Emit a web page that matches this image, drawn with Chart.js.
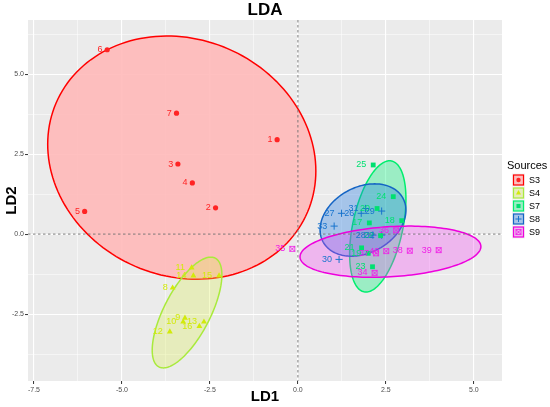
<!DOCTYPE html>
<html>
<head>
<meta charset="utf-8">
<title>LDA</title>
<script src="https://cdn.jsdelivr.net/npm/chart.js@4.4.1/dist/chart.umd.min.js"></script>
<style>
  html, body { margin: 0; padding: 0; background: #ffffff; }
  #ldaChart { display: block; }
</style>
</head>
<body>
<canvas id="ldaChart" width="550" height="407"></canvas>
<script>
/* ── data ─────────────────────────────────────── */
var sources = ['S3', 'S4', 'S7', 'S8', 'S9'];

var s3Ids = [1, 2, 3, 4, 5, 6, 7];
var s3X = [-0.59, -2.34, -3.41, -3.00, -6.06, -5.42, -3.45];
var s3Y = [2.95, 0.82, 2.19, 1.60, 0.71, 5.76, 3.78];

var s4Ids = [8, 9, 10, 11, 12, 13, 14, 15, 16];
var s4X = [-3.56, -3.21, -3.26, -3.02, -3.64, -2.67, -2.97, -2.24, -2.80];
var s4Y = [-1.68, -2.62, -2.74, -1.05, -3.05, -2.74, -1.30, -1.30, -2.88];

var s7Ids = [17, 18, 19, 20, 21, 22, 23, 24, 25];
var s7X = [2.03, 2.95, 2.00, 2.25, 1.81, 2.35, 2.12, 2.71, 2.14];
var s7Y = [0.35, 0.42, -0.60, 0.80, -0.43, -0.05, -1.02, 1.17, 2.16];

var s8Ids = [26, 27, 28, 29, 30, 31, 32, 33];
var s8X = [1.80, 1.24, 2.13, 2.38, 1.17, 1.92, 2.38, 1.03];
var s8Y = [0.65, 0.65, -0.03, 0.72, -0.79, 0.80, -0.03, 0.25];

var s9Ids = [34, 35, 36, 37, 38, 39, 40];
var s9X = [2.18, -0.16, 2.79, 2.22, 3.18, 4.00, 2.51];
var s9Y = [-1.21, -0.46, 0.12, -0.60, -0.52, -0.50, -0.53];

/* 95% ellipses: centre x, centre y, x half-extent, y half-extent, correlation */
var ellipseS3 = [-3.30, 2.39, 3.81, 3.80, -0.11];
var ellipseS4 = [-3.15, -2.45, 0.99, 1.73, 0.68];
var ellipseS7 = [2.27, 0.24, 0.80, 2.05, 0.42];
var ellipseS8 = [1.85, 0.44, 1.22, 1.13, 0.27];
var ellipseS9 = [2.63, -0.55, 2.57, 0.80, 0.20];

var xTicks = [-7.5, -6.25, -5, -3.75, -2.5, -1.25, 0, 1.25, 2.5, 3.75, 5];
var yTicks = [-3.75, -2.5, -1.25, 0, 1.25, 2.5, 3.75, 5, 6.25];

(function () {
  'use strict';

  var FONT = "'Liberation Sans', Arial, Helvetica, sans-serif";
  Chart.defaults.font.family = FONT;
  Chart.defaults.color = '#4d4d4d';

  var colors = {
    S3: { pt: '#ff2424', line: '#ff0000', fill: 'rgba(255,185,185,0.9)' },
    S4: { pt: '#d2ea0a', line: '#a9ea3c', fill: 'rgba(219,237,80,0.3)' },
    S7: { pt: '#00e070', line: '#00ee6e', fill: 'rgba(0,240,120,0.34)' },
    S8: { pt: '#1874cd', line: '#1464c4', fill: 'rgba(30,120,230,0.34)' },
    S9: { pt: '#f01ee6', line: '#ee00dd', fill: 'rgba(245,60,245,0.30)' }
  };

  /* square with a cross inside (ggplot shape 7) */
  function boxCross(color) {
    var c = document.createElement('canvas');
    c.width = 8; c.height = 8;
    var g = c.getContext('2d');
    g.strokeStyle = color;
    g.lineWidth = 0.8;
    g.strokeRect(1.4, 1.4, 5.2, 5.2);
    g.beginPath();
    g.moveTo(1.4, 1.4); g.lineTo(6.6, 6.6);
    g.moveTo(6.6, 1.4); g.lineTo(1.4, 6.6);
    g.stroke();
    return c;
  }

  function pts(xs, ys) {
    return xs.map(function (x, i) { return { x: x, y: ys[i] }; });
  }

  var groups = [
    { name: 'S3', ids: s3Ids, data: pts(s3X, s3Y), ell: ellipseS3, style: 'circle', r: 2.6, bw: 0 },
    { name: 'S4', ids: s4Ids, data: pts(s4X, s4Y), ell: ellipseS4, style: 'triangle', r: 3.4, bw: 0 },
    { name: 'S7', ids: s7Ids, data: pts(s7X, s7Y), ell: ellipseS7, style: 'rect', r: 3.4, bw: 0 },
    { name: 'S8', ids: s8Ids, data: pts(s8X, s8Y), ell: ellipseS8, style: 'cross', r: 3.6, bw: 1 },
    { name: 'S9', ids: s9Ids, data: pts(s9X, s9Y), ell: ellipseS9, style: boxCross(colors.S9.pt), r: 4, bw: 0 }
  ];

  function isMajor(v) {
    return Math.abs(v / 2.5 - Math.round(v / 2.5)) < 1e-6;
  }

  function drawEllipse(chart, e, c) {
    var xs = chart.scales.x, ys = chart.scales.y, ctx = chart.ctx;
    var q = Math.sqrt(1 - e[4] * e[4]);
    ctx.beginPath();
    for (var i = 0; i <= 160; i++) {
      var t = i / 160 * Math.PI * 2;
      var px = xs.getPixelForValue(e[0] + e[2] * Math.cos(t));
      var py = ys.getPixelForValue(e[1] + e[3] * (e[4] * Math.cos(t) + q * Math.sin(t)));
      if (i === 0) ctx.moveTo(px, py); else ctx.lineTo(px, py);
    }
    ctx.closePath();
    ctx.fillStyle = c.fill;
    ctx.fill();
    ctx.lineWidth = 1.5;
    ctx.strokeStyle = c.line;
    ctx.stroke();
  }

  /* ── panel, ellipses, zero lines, labels, legend ── */
  var ggPanel = {
    id: 'ggPanel',
    beforeDraw: function (chart) {
      var a = chart.chartArea, ctx = chart.ctx;
      ctx.save();
      ctx.fillStyle = '#ffffff';
      ctx.fillRect(0, 0, chart.width, chart.height);
      ctx.fillStyle = '#ebebeb';
      ctx.fillRect(a.left, a.top, a.right - a.left, a.bottom - a.top);
      ctx.restore();
    },
    beforeDatasetsDraw: function (chart) {
      var a = chart.chartArea, ctx = chart.ctx;
      ctx.save();
      ctx.beginPath();
      ctx.rect(a.left, a.top, a.right - a.left, a.bottom - a.top);
      ctx.clip();
      groups.forEach(function (g) { drawEllipse(chart, g.ell, colors[g.name]); });

      var x0 = chart.scales.x.getPixelForValue(0);
      var y0 = chart.scales.y.getPixelForValue(0);
      ctx.setLineDash([2.5, 2.5]);
      ctx.lineWidth = 0.9;
      ctx.strokeStyle = '#6e6e6e';
      ctx.beginPath();
      ctx.moveTo(x0, a.top); ctx.lineTo(x0, a.bottom);
      ctx.moveTo(a.left, y0); ctx.lineTo(a.right, y0);
      ctx.stroke();
      ctx.restore();
    },
    afterDatasetsDraw: function (chart) {
      var ctx = chart.ctx;
      ctx.save();
      ctx.font = '9px ' + FONT;
      ctx.textAlign = 'right';
      ctx.textBaseline = 'middle';
      groups.forEach(function (g, di) {
        var meta = chart.getDatasetMeta(di);
        ctx.fillStyle = colors[g.name].pt;
        meta.data.forEach(function (el, i) {
          var txt = String(g.ids[i]);
          var w = ctx.measureText(txt).width;
          ctx.fillText(txt, el.x - (2.5 + 0.45 * w), el.y);
        });
      });
      ctx.restore();
    },
    afterDraw: function (chart) {
      var ctx = chart.ctx, a = chart.chartArea;
      ctx.save();
      ctx.fillStyle = '#000000';
      ctx.font = 'bold 17px ' + FONT;
      ctx.textAlign = 'center';
      ctx.textBaseline = 'middle';
      ctx.fillText('LDA', (a.left + a.right) / 2, 10);

      /* legend */
      var lx = 507, ly = 166;
      ctx.textAlign = 'left';
      ctx.font = '11px ' + FONT;
      ctx.fillText('Sources', lx, ly);
      ctx.font = '9px ' + FONT;
      groups.forEach(function (g, i) {
        var cy = ly + 14 + 13 * i;
        var kx = lx + 5;
        var c = colors[g.name];
        ctx.fillStyle = '#f2f2f2';
        ctx.fillRect(kx, cy - 6.5, 13, 13);
        ctx.fillStyle = '#ebebeb';
        ctx.fillRect(kx + 1.5, cy - 5, 10, 10);
        ctx.fillStyle = c.fill;
        ctx.fillRect(kx + 1.5, cy - 5, 10, 10);
        ctx.lineWidth = 1.2;
        ctx.strokeStyle = c.line;
        ctx.strokeRect(kx + 1.5, cy - 5, 10, 10);
        ctx.fillStyle = c.pt;
        ctx.strokeStyle = c.pt;
        ctx.lineWidth = g.bw || 1;
        Chart.helpers.drawPoint(ctx, {
          pointStyle: g.style, radius: g.r * 0.85, rotation: 0, borderWidth: g.bw
        }, kx + 6.5, cy);
        ctx.fillStyle = '#000000';
        ctx.fillText(g.name, kx + 17, cy + 0.5);
      });
      ctx.restore();
    }
  };

  function gridOpts() {
    return {
      color: '#ffffff',
      lineWidth: function (c) { return c.tick && isMajor(c.tick.value) ? 1.1 : 0.5; },
      tickColor: function (c) { return c.tick && isMajor(c.tick.value) ? '#333333' : 'rgba(0,0,0,0)'; },
      tickWidth: 1,
      tickLength: 3,
      drawTicks: true
    };
  }

  function tickLabel(v) {
    return isMajor(v) ? (Math.abs(v) < 1e-9 ? '0.0' : v.toFixed(1)) : '';
  }

  new Chart(document.getElementById('ldaChart'), {
    type: 'scatter',
    data: {
      datasets: groups.map(function (g) {
        var c = colors[g.name];
        return {
          label: g.name,
          data: g.data,
          pointStyle: g.style,
          pointRadius: g.r,
          pointHoverRadius: g.r,
          pointBorderWidth: g.bw,
          backgroundColor: c.pt,
          borderColor: c.pt
        };
      })
    },
    options: {
      responsive: false,
      animation: false,
      layout: { padding: { left: 0, top: 20, right: 48, bottom: 0 } },
      plugins: {
        legend: { display: false },
        title: { display: false },
        tooltip: { enabled: false }
      },
      scales: {
        x: {
          type: 'linear',
          min: -7.67, max: 5.8,
          afterBuildTicks: function (s) { s.ticks = xTicks.map(function (v) { return { value: v }; }); },
          afterFit: function (s) { s.height = 26; },
          grid: gridOpts(),
          border: { display: false },
          ticks: {
            autoSkip: false, maxRotation: 0, padding: 1.5,
            font: { size: 7 }, color: '#4d4d4d',
            callback: tickLabel
          },
          title: {
            display: true, text: 'LD1', color: '#000000',
            font: { size: 15, weight: 'bold' }, padding: { top: 0, bottom: 1 }
          }
        },
        y: {
          type: 'linear',
          min: -4.59, max: 6.69,
          afterBuildTicks: function (s) { s.ticks = yTicks.map(function (v) { return { value: v }; }); },
          afterFit: function (s) { s.width = 28; },
          grid: gridOpts(),
          border: { display: false },
          ticks: {
            autoSkip: false, padding: 1,
            font: { size: 7 }, color: '#4d4d4d',
            callback: tickLabel
          },
          title: {
            display: true, text: 'LD2', color: '#000000',
            font: { size: 15, weight: 'bold' }, padding: { top: 3, bottom: 0 }
          }
        }
      }
    },
    plugins: [ggPanel]
  });
}());
</script>
</body>
</html>
